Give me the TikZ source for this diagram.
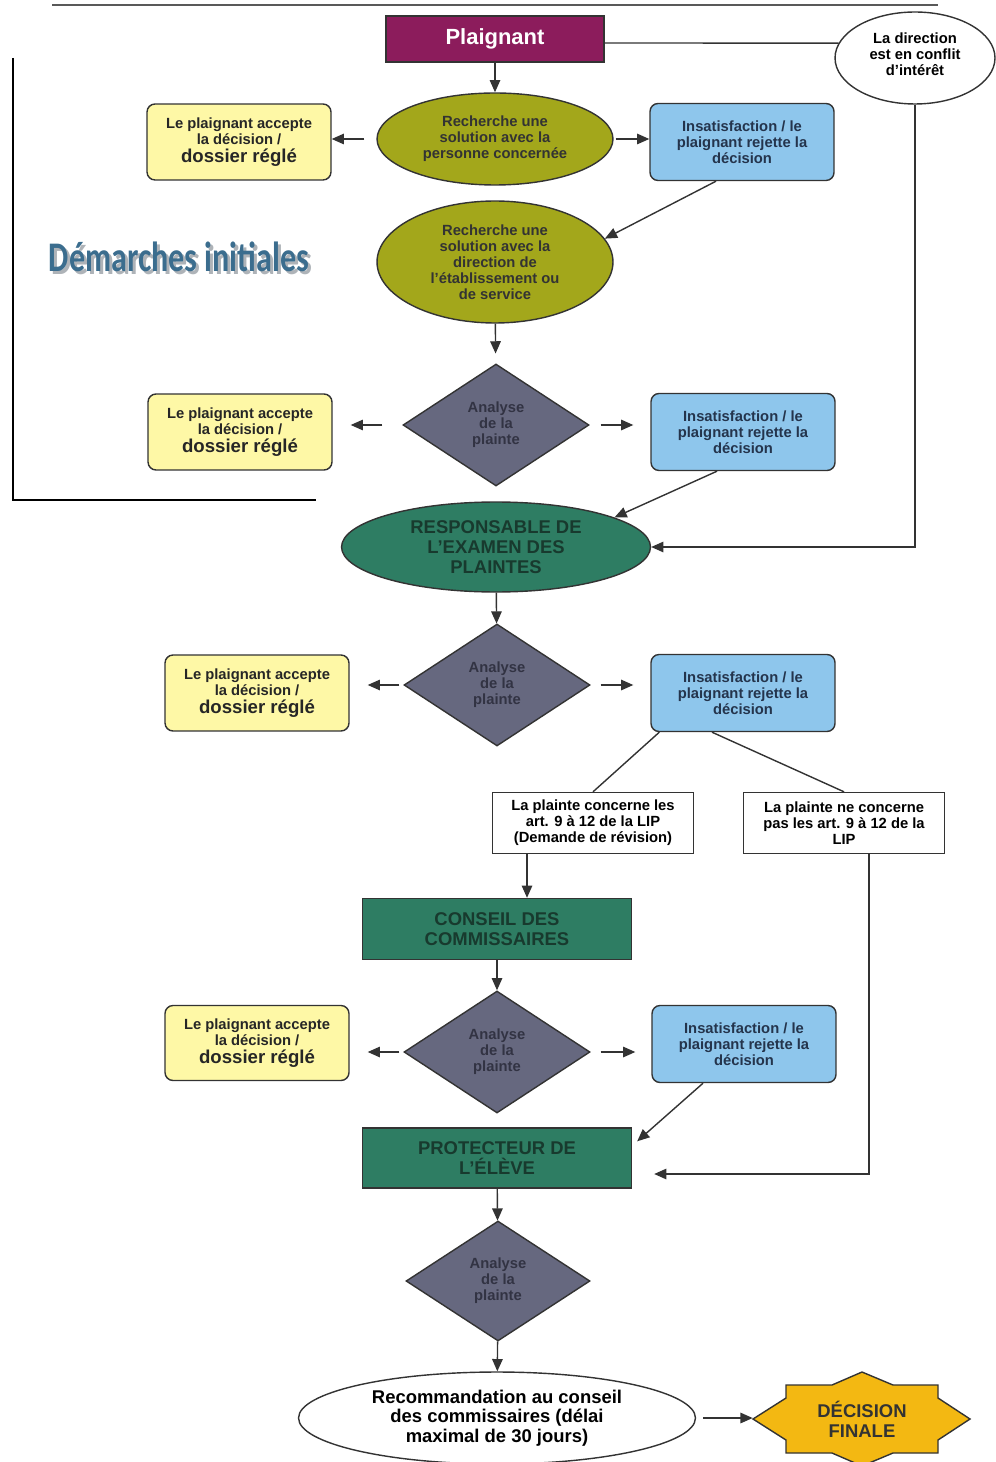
\documentclass[tikz,border=0pt]{standalone}
\usepackage{fontspec}
\setmainfont{Liberation Sans}
\newfontfamily\titlefont{Carlito}
\usetikzlibrary{shapes.geometric,arrows.meta,backgrounds,positioning}
\definecolor{plumfill}{HTML}{8C1C5C}
\definecolor{olivefill}{HTML}{A3A71B}
\definecolor{accfill}{HTML}{FEF8A6}
\definecolor{insfill}{HTML}{8EC6EC}
\definecolor{instext}{HTML}{24344C}
\definecolor{slatefill}{HTML}{66687F}
\definecolor{slatetext}{HTML}{323343}
\definecolor{tealfill}{HTML}{2E7D63}
\definecolor{tealtext}{HTML}{183A2E}
\definecolor{goldfill}{HTML}{F3B812}
\definecolor{titleblue}{HTML}{3B6D8E}
\definecolor{titleshade}{HTML}{AEB3B8}
\definecolor{edge}{HTML}{333333}
\tikzset{
  base/.style={draw=edge, line width=0.8pt, align=center, inner sep=0pt,
    font=\bfseries\fontsize{8.4}{9.1}\selectfont},
  accbox/.style={base, rounded corners=0.16cm, fill=accfill, text=black!85,
    minimum width=3.68cm, minimum height=1.52cm},
  insbox/.style={base, rounded corners=0.16cm, fill=insfill, text=instext,
    minimum width=3.68cm, minimum height=1.54cm},
  artbox/.style={base, fill=white, minimum width=4.02cm, minimum height=1.22cm},
  recherche/.style={base, ellipse, fill=olivefill, text=black!80, minimum width=4.72cm},
  analyse/.style={base, diamond, fill=slatefill, text=slatetext,
    minimum width=3.72cm, minimum height=2.44cm},
  instance/.style={base, fill=tealfill, text=tealtext,
    font=\bfseries\fontsize{10.5}{11.3}\selectfont},
  titre/.style={font=\titlefont\bfseries\fontsize{24}{24}\selectfont},
  arr/.style={-{Triangle[length=7pt,width=6pt]}, line width=0.8pt, draw=edge},
  link/.style={line width=0.8pt, draw=edge}
}
\newcommand{\dossier}{{\fontsize{10.6}{11}\selectfont dossier réglé}}
\begin{document}
\begin{tikzpicture}[x=0.02cm, y=-0.02cm]
\useasboundingbox (0,0) rectangle (996,1462);
% cadre
\draw[line width=1.1pt, black!65] (52,5) -- (938,5);
\draw[line width=1.2pt] (13,58) -- (13,500) -- (316,500);
\node[titre, text=titleshade] (demshadow) at (182,260) {\scalebox{0.76}[1]{Démarches initiales}};
\node[titre, text=titleblue] (dem) at (179,257) {\scalebox{0.76}[1]{Démarches initiales}};
% demarches initiales
\node[base, fill=plumfill, text=white, font=\bfseries\fontsize{12.5}{14}\selectfont,
  minimum width=4.36cm, minimum height=0.92cm] (plaig) at (495,39) {Plaignant};
\node[base, ellipse, fill=white, minimum width=3.2cm, minimum height=1.84cm] (conflit) at (915,58)
  {La direction\\est en conflit\\d’intérêt\\[-0.16cm]};
\node[recherche, minimum height=1.84cm] (rech1) at (495,139) {Recherche une\\solution avec la\\personne concernée};
\node[accbox] (acc1) at (239,142) {Le plaignant accepte\\la décision /\\[1.5pt]\dossier};
\node[insbox] (ins1) at (742,142) {Insatisfaction / le\\plaignant rejette la\\décision};
\node[recherche, minimum height=2.44cm] (rech2) at (495,262)
  {Recherche une\\solution avec la\\direction de\\l’établissement ou\\de service};
\node[analyse] (ana1) at (496,425) {Analyse\\de la\\plainte};
\node[accbox] (acc2) at (240,432) {Le plaignant accepte\\la décision /\\[1.5pt]\dossier};
\node[insbox] (ins2) at (743,432) {Insatisfaction / le\\plaignant rejette la\\décision};
% responsable
\node[instance, ellipse, minimum width=6.18cm, minimum height=1.8cm] (resp) at (496,547)
  {RESPONSABLE DE\\L’EXAMEN DES\\PLAINTES};
\node[analyse] (ana2) at (497,685) {Analyse\\de la\\plainte};
\node[accbox] (acc3) at (257,693) {Le plaignant accepte\\la décision /\\[1.5pt]\dossier};
\node[insbox] (ins3) at (743,693) {Insatisfaction / le\\plaignant rejette la\\décision};
\node[artbox] (plA) at (593,823) {La plainte concerne les\\art. 9 à 12 de la LIP\\(Demande de révision)};
\node[artbox] (plB) at (844,823) {La plainte ne concerne\\pas les art. 9 à 12 de la\\LIP};
% conseil
\node[instance, minimum width=5.38cm, minimum height=1.22cm] (cons) at (497,929) {CONSEIL DES\\COMMISSAIRES};
\node[analyse] (ana3) at (497,1052) {Analyse\\de la\\plainte};
\node[accbox, minimum height=1.5cm] (acc4) at (257,1043) {Le plaignant accepte\\la décision /\\[1.5pt]\dossier};
\node[insbox] (ins4) at (744,1044) {Insatisfaction / le\\plaignant rejette la\\décision};
% protecteur
\node[instance, minimum width=5.38cm, minimum height=1.2cm] (prot) at (497,1158) {PROTECTEUR DE\\L’ÉLÈVE};
\node[analyse, minimum width=3.68cm, minimum height=2.4cm] (ana4) at (498,1281) {Analyse\\de la\\plainte};
\node[base, ellipse, fill=white, font=\bfseries\fontsize{10.5}{11}\selectfont,
  minimum width=7.94cm, minimum height=1.84cm] (recom) at (497,1418)
  {Recommandation au conseil\\des commissaires (délai\\maximal de 30 jours)};
\node[font=\bfseries\fontsize{10.5}{11.3}\selectfont, text=black!80, align=center,
  minimum width=4.36cm, minimum height=1.8cm, inner sep=0pt] (fin) at (862,1419) {DÉCISION\\FINALE};
\begin{scope}[on background layer, shift={(fin.center)}]
  \filldraw[fill=goldfill, draw=edge, line width=0.8pt] (-109,0) -- (-76,-21) -- (-76,-34) -- (-30,-34)
    -- (0,-47) -- (31,-34) -- (76,-34) -- (76,-21) -- (108,0) -- (76,21) -- (76,34) -- (31,34)
    -- (0,47) -- (-30,34) -- (-76,34) -- (-76,21) -- cycle;
\end{scope}
% fleches
\draw[arr] (plaig) -- (rech1);
\draw[link] ([yshift=-0.08cm]plaig.east) -- (conflit.169);
\draw[arr] (conflit.south) |- (resp.east);
\draw[arr, shorten <=0.24cm] (rech1.west) -- (rech1.west -| acc1.east);
\draw[arr, shorten <=0.04cm] (rech1.east) -- (rech1.east -| ins1.west);
\draw[arr] ([xshift=-0.52cm]ins1.south) -- (rech2.12);
\draw[arr, shorten >=0.2cm] (rech2) -- (ana1);
\draw[arr, shorten <=0.4cm, shorten >=0.36cm] (ana1.west) -- (ana1.west -| acc2.east);
\draw[arr, shorten <=0.22cm, shorten >=0.34cm] (ana1.east) -- (ana1.east -| ins2.west);
\draw[arr] ([xshift=-0.52cm]ins2.south) -- (resp.14);
\draw[arr] (resp) -- (ana2);
\draw[arr, shorten <=0.08cm, shorten >=0.36cm] (ana2.west) -- (ana2.west -| acc3.east);
\draw[arr, shorten <=0.2cm, shorten >=0.34cm] (ana2.east) -- (ana2.east -| ins3.west);
\draw[link] ([xshift=0.18cm]ins3.south west) -- (plA.north);
\draw[link] ([xshift=-0.62cm]ins3.south) -- (plB.north);
\coordinate (pA) at ([xshift=-1.32cm]plA.south);
\draw[arr] (pA) -- (pA |- cons.north);
\draw[arr] (cons) -- (ana3);
\draw[arr, shorten <=0.08cm, shorten >=0.36cm] (ana3.west) -- (ana3.west -| acc4.east);
\draw[arr, shorten <=0.2cm, shorten >=0.32cm] (ana3.east) -- (ana3.east -| ins4.west);
\draw[arr] ([xshift=-0.82cm]ins4.south) -- ([xshift=0.1cm,yshift=-0.28cm]prot.north east);
\coordinate (pB) at ([xshift=0.5cm]plB.south);
\coordinate (pP) at ([xshift=0.44cm,yshift=-0.32cm]prot.east);
\draw[arr] (pB) |- (pP);
\draw[arr] (prot) -- (ana4);
\draw[arr] (ana4) -- (recom);
\draw[arr, shorten <=0.14cm] (recom.east) -- (recom.east -| fin.west);
\end{tikzpicture}
\end{document}
